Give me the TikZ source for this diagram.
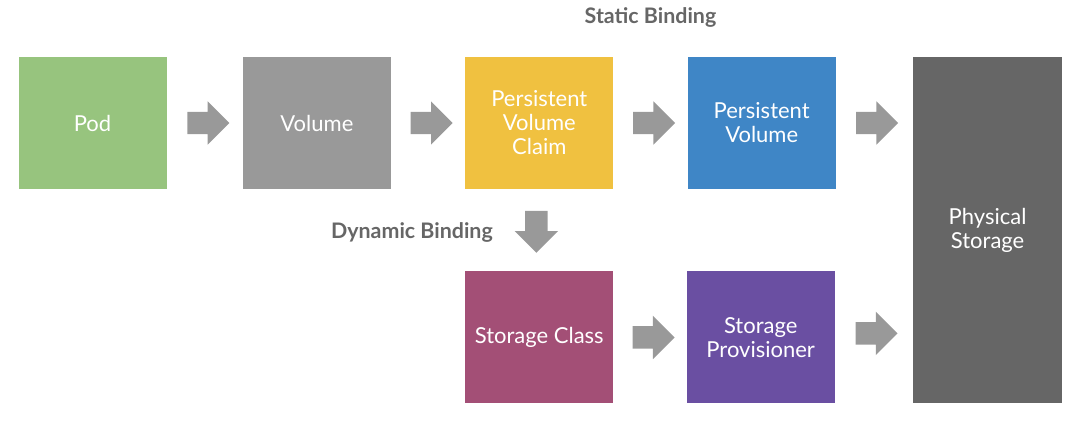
\documentclass[tikz,border=0pt]{standalone}
\usepackage{fontspec}
\setmainfont{Lato}
\usetikzlibrary{shapes.arrows,positioning,calc}
\definecolor{podgreen}{HTML}{97C47E}
\definecolor{volgray}{HTML}{999999}
\definecolor{pvcyellow}{HTML}{F0C140}
\definecolor{pvblue}{HTML}{3F86C6}
\definecolor{scpink}{HTML}{A34F76}
\definecolor{sppurple}{HTML}{6A4FA2}
\definecolor{physgray}{HTML}{666666}
\definecolor{arrgray}{HTML}{999999}
\definecolor{lblgray}{HTML}{666666}
\tikzset{
	block/.style = {rectangle, inner sep=0pt, minimum width=148pt,
		minimum height=132pt, text=white, align=center,
		font=\fontsize{22pt}{24pt}\selectfont},
	arr/.style = {single arrow, fill=arrgray, inner xsep=0pt, inner ysep=11pt,
		minimum height=42pt,
		single arrow head extend=10.5pt, single arrow head indent=0pt},
	lbl/.style = {text=lblgray, font=\bfseries\fontsize{21.4pt}{24pt}\selectfont}
}

\begin{document}
\begin{tikzpicture}
	\useasboundingbox (0pt,0pt) rectangle (1080pt,-425pt);
	% Place nodes
	\node [block, fill=podgreen] (pod) at (92.5pt,-123pt) {Pod};
	\node [block, fill=volgray, right=76pt of pod] (vol) {Volume};
	\node [block, fill=pvcyellow, right=74pt of vol] (pvc) {Persistent\\Volume\\Claim};
	\node [block, fill=pvblue, right=74pt of pvc] (pv) {Persistent\\Volume};
	\node [block, fill=physgray, minimum width=149pt, minimum height=346pt,
		right=77pt of pv.north east, anchor=north west] (phys) {Physical\\Storage};
	\node [block, fill=scpink, below=82pt of pvc] (sc) {Storage Class};
	\node [block, fill=sppurple, right=73pt of sc] (sp) {Storage\\Provisioner};
	% Labels
	\node [lbl] (static) at ([yshift=39pt]$(pvc.north east)!0.5!(pv.north west)$) {Static Binding};
	% Arrows
	\node [arr] (a1) at ([xshift=-2pt]$(pod.east)!0.5!(vol.west)$) {};
	\node [arr] (a2) at ([xshift=-2pt]$(vol.east)!0.5!(pvc.west)$) {};
	\node [arr] (a3) at ([xshift=-2pt]$(pvc.east)!0.5!(pv.west)$) {};
	\node [arr] (a4) at ([xshift=-3pt]$(pv.east)!0.5!(pv.east -| phys.west)$) {};
	\node [arr, shape border rotate=270, inner xsep=11pt, inner ysep=0pt] (darr)
		at ([xshift=-3pt,yshift=4pt]$(pvc.south)!0.5!(sc.north)$) {};
	\node [arr] (a5) at ([xshift=-2pt]$(sc.east)!0.5!(sp.west)$) {};
	\node [arr] (a6) at ([xshift=-3pt,yshift=4pt]$(sp.east)!0.5!(sp.east -| phys.west)$) {};
	\node [lbl, anchor=east] (dynamic) at ([xshift=-40pt,yshift=-6pt]darr.center) {Dynamic Binding};
\end{tikzpicture}
\end{document}
